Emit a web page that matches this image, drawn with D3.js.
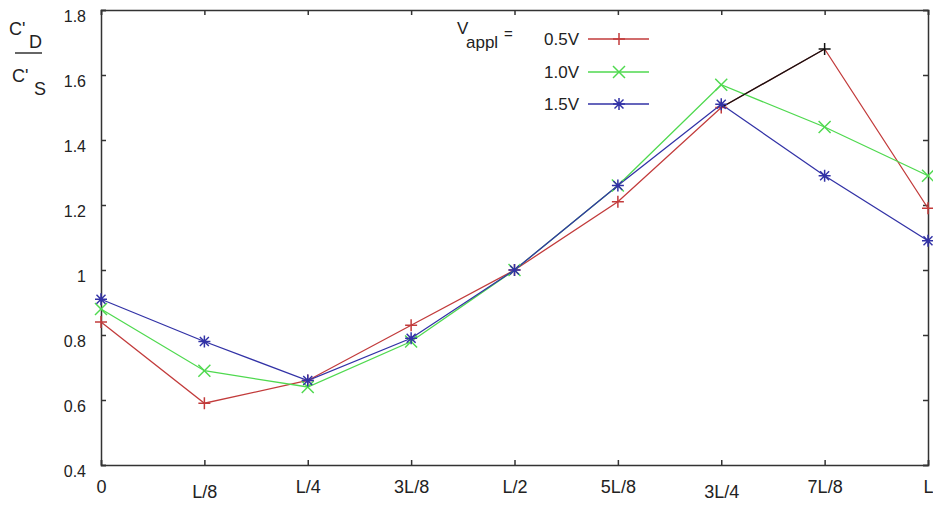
<html>
<head>
  <meta charset="UTF-8">
  <script src="https://d3js.org/d3.v7.min.js"></script>
  <style>
    body { margin: 0; background: #fff; }
    text { font-family: "Liberation Sans", Arial, sans-serif; fill: #222; }
  </style>
</head>
<body>
  <svg id="chart" width="933" height="505"></svg>
  <script>
    // Data
    const positions = [ "0", "L/8", "L/4", "3L/8", "L/2", "5L/8", "3L/4", "7L/8", "L" ];
    const yTicks = [ 0.4, 0.6, 0.8, 1, 1.2, 1.4, 1.6, 1.8 ];
    const seriesNames = [ "0.5V", "1.0V", "1.5V" ];
    const v05 = [ 0.84, 0.59, 0.66, 0.83, 1.00, 1.21, 1.50, 1.68, 1.19 ];
    const v10 = [ 0.88, 0.69, 0.64, 0.78, 1.00, 1.26, 1.57, 1.44, 1.29 ];
    const v15 = [ 0.91, 0.78, 0.66, 0.79, 1.00, 1.26, 1.51, 1.29, 1.09 ];

    const colors = [ "#c23b3b", "#4fd94f", "#3232a6" ];
    const symbols = [ "plus", "cross", "star" ];
    const allSeries = [ v05, v10, v15 ];

    // Plot box
    const plotLeft = 101, plotRight = 928, plotTop = 10, plotBottom = 465;

    const svg = d3.select( "#chart" );

    const x = d3.scaleLinear()
      .domain( [ 0, positions.length - 1 ] )
      .range( [ plotLeft, plotRight ] );

    const y = d3.scaleLinear()
      .domain( [ 0.4, 1.8 ] )
      .range( [ plotBottom, plotTop ] );

    // Axes (inward ticks, gnuplot style)
    const axisColor = "#333";

    svg.append( "g" )
      .attr( "transform", "translate(" + plotLeft + ",0)" )
      .call( d3.axisLeft( y ).tickValues( yTicks ).tickSize( -5 ).tickPadding( 15 )
        .tickFormat( d => String( d ) ) )
      .call( g => g.selectAll( "text" ).style( "font-size", "16px" ).attr( "dy", "0.7em" ) );

    // labels under L/8 and 3L/4 sit a little lower in the original
    const lowered = [ "L/8", "3L/4" ];
    svg.append( "g" )
      .attr( "transform", "translate(0," + plotBottom + ")" )
      .call( d3.axisBottom( x ).tickValues( d3.range( positions.length ) ).tickSize( -5 ).tickPadding( 15 )
        .tickFormat( i => positions[ i ] ) )
      .call( g => g.selectAll( "text" )
        .style( "font-size", "18px" )
        .attr( "dy", i => lowered.includes( positions[ i ] ) ? "1.0em" : "0.71em" ) );

    // Mirror axes on top and right
    svg.append( "g" )
      .attr( "transform", "translate(0," + plotTop + ")" )
      .call( d3.axisTop( x ).tickValues( d3.range( positions.length ) ).tickSize( -5 ).tickFormat( "" ) );

    svg.append( "g" )
      .attr( "transform", "translate(" + plotRight + ",0)" )
      .call( d3.axisRight( y ).tickValues( yTicks ).tickSize( -5 ).tickFormat( "" ) );

    svg.selectAll( ".domain, .tick line" )
      .attr( "stroke", axisColor )
      .attr( "stroke-width", 1.5 );

    // Marker drawing
    function marker( g, type, cx, cy, color, r ) {
      const paths = [];
      if ( type === "plus" || type === "star" ) {
        paths.push( [ [ cx - r, cy ], [ cx + r, cy ] ], [ [ cx, cy - r ], [ cx, cy + r ] ] );
      }
      if ( type === "cross" || type === "star" ) {
        const k = type === "star" ? r * 0.75 : r;
        paths.push( [ [ cx - k, cy - k ], [ cx + k, cy + k ] ], [ [ cx - k, cy + k ], [ cx + k, cy - k ] ] );
      }
      paths.forEach( p => {
        g.append( "path" )
          .attr( "d", d3.line()( p ) )
          .attr( "stroke", color )
          .attr( "stroke-width", 1.5 )
          .attr( "fill", "none" );
      } );
    }

    const line = d3.line()
      .x( ( d, i ) => x( i ) )
      .y( d => y( d ) );

    // Lines
    allSeries.forEach( ( values, s ) => {
      svg.append( "path" )
        .datum( values )
        .attr( "d", line )
        .attr( "fill", "none" )
        .attr( "stroke", colors[ s ] )
        .attr( "stroke-width", 1.3 );
    } );

    // The 3L/4 -> 7L/8 segment of the 0.5V curve is black in the original
    svg.append( "path" )
      .datum( v05.slice( 6, 8 ) )
      .attr( "d", d3.line().x( ( d, i ) => x( i + 6 ) ).y( d => y( d ) ) )
      .attr( "fill", "none" )
      .attr( "stroke", "#111" )
      .attr( "stroke-width", 1.3 );

    // Markers
    allSeries.forEach( ( values, s ) => {
      const g = svg.append( "g" );
      values.forEach( ( v, i ) => {
        const c = ( s === 0 && i === 7 ) ? "#111" : colors[ s ];
        marker( g, symbols[ s ], x( i ), y( v ), c, 6 );
      } );
      if ( s === 2 ) {
        values.forEach( ( v, i ) => {
          g.append( "circle" ).attr( "cx", x( i ) ).attr( "cy", y( v ) ).attr( "r", 2 ).attr( "fill", colors[ s ] );
        } );
      }
    } );

    // Legend
    const legend = svg.append( "g" );
    const legY = [ 39, 72, 104 ];
    legend.append( "text" )
      .attr( "x", 457 ).attr( "y", 34 )
      .style( "font-size", "17px" )
      .text( "V" );
    legend.append( "text" )
      .attr( "x", 466 ).attr( "y", 48 )
      .style( "font-size", "17px" )
      .text( "appl" );
    legend.append( "text" )
      .attr( "x", 504 ).attr( "y", 39 )
      .style( "font-size", "15px" )
      .text( "=" );
    seriesNames.forEach( ( name, s ) => {
      legend.append( "text" )
        .attr( "x", 579 ).attr( "y", legY[ s ] + 6 )
        .attr( "text-anchor", "end" )
        .style( "font-size", "17px" )
        .text( name );
      legend.append( "line" )
        .attr( "x1", 588 ).attr( "x2", 649 )
        .attr( "y1", legY[ s ] ).attr( "y2", legY[ s ] )
        .attr( "stroke", colors[ s ] )
        .attr( "stroke-width", 1.5 );
      marker( legend, symbols[ s ], 619, legY[ s ], colors[ s ], 6 );
      if ( s === 2 ) {
        legend.append( "circle" ).attr( "cx", 619 ).attr( "cy", legY[ s ] ).attr( "r", 2 ).attr( "fill", colors[ s ] );
      }
    } );

    // Y label: C'D / C'S
    const ylab = svg.append( "g" );
    ylab.append( "text" ).attr( "x", 9 ).attr( "y", 35 ).style( "font-size", "18px" ).text( "C'" );
    ylab.append( "text" ).attr( "x", 29 ).attr( "y", 48 ).style( "font-size", "18px" ).text( "D" );
    ylab.append( "line" )
      .attr( "x1", 15 ).attr( "x2", 42 ).attr( "y1", 53 ).attr( "y2", 53 )
      .attr( "stroke", "#333" ).attr( "stroke-width", 1.5 );
    ylab.append( "text" ).attr( "x", 12 ).attr( "y", 82 ).style( "font-size", "18px" ).text( "C'" );
    ylab.append( "text" ).attr( "x", 34 ).attr( "y", 95 ).style( "font-size", "18px" ).text( "S" );
  </script>
</body>
</html>
